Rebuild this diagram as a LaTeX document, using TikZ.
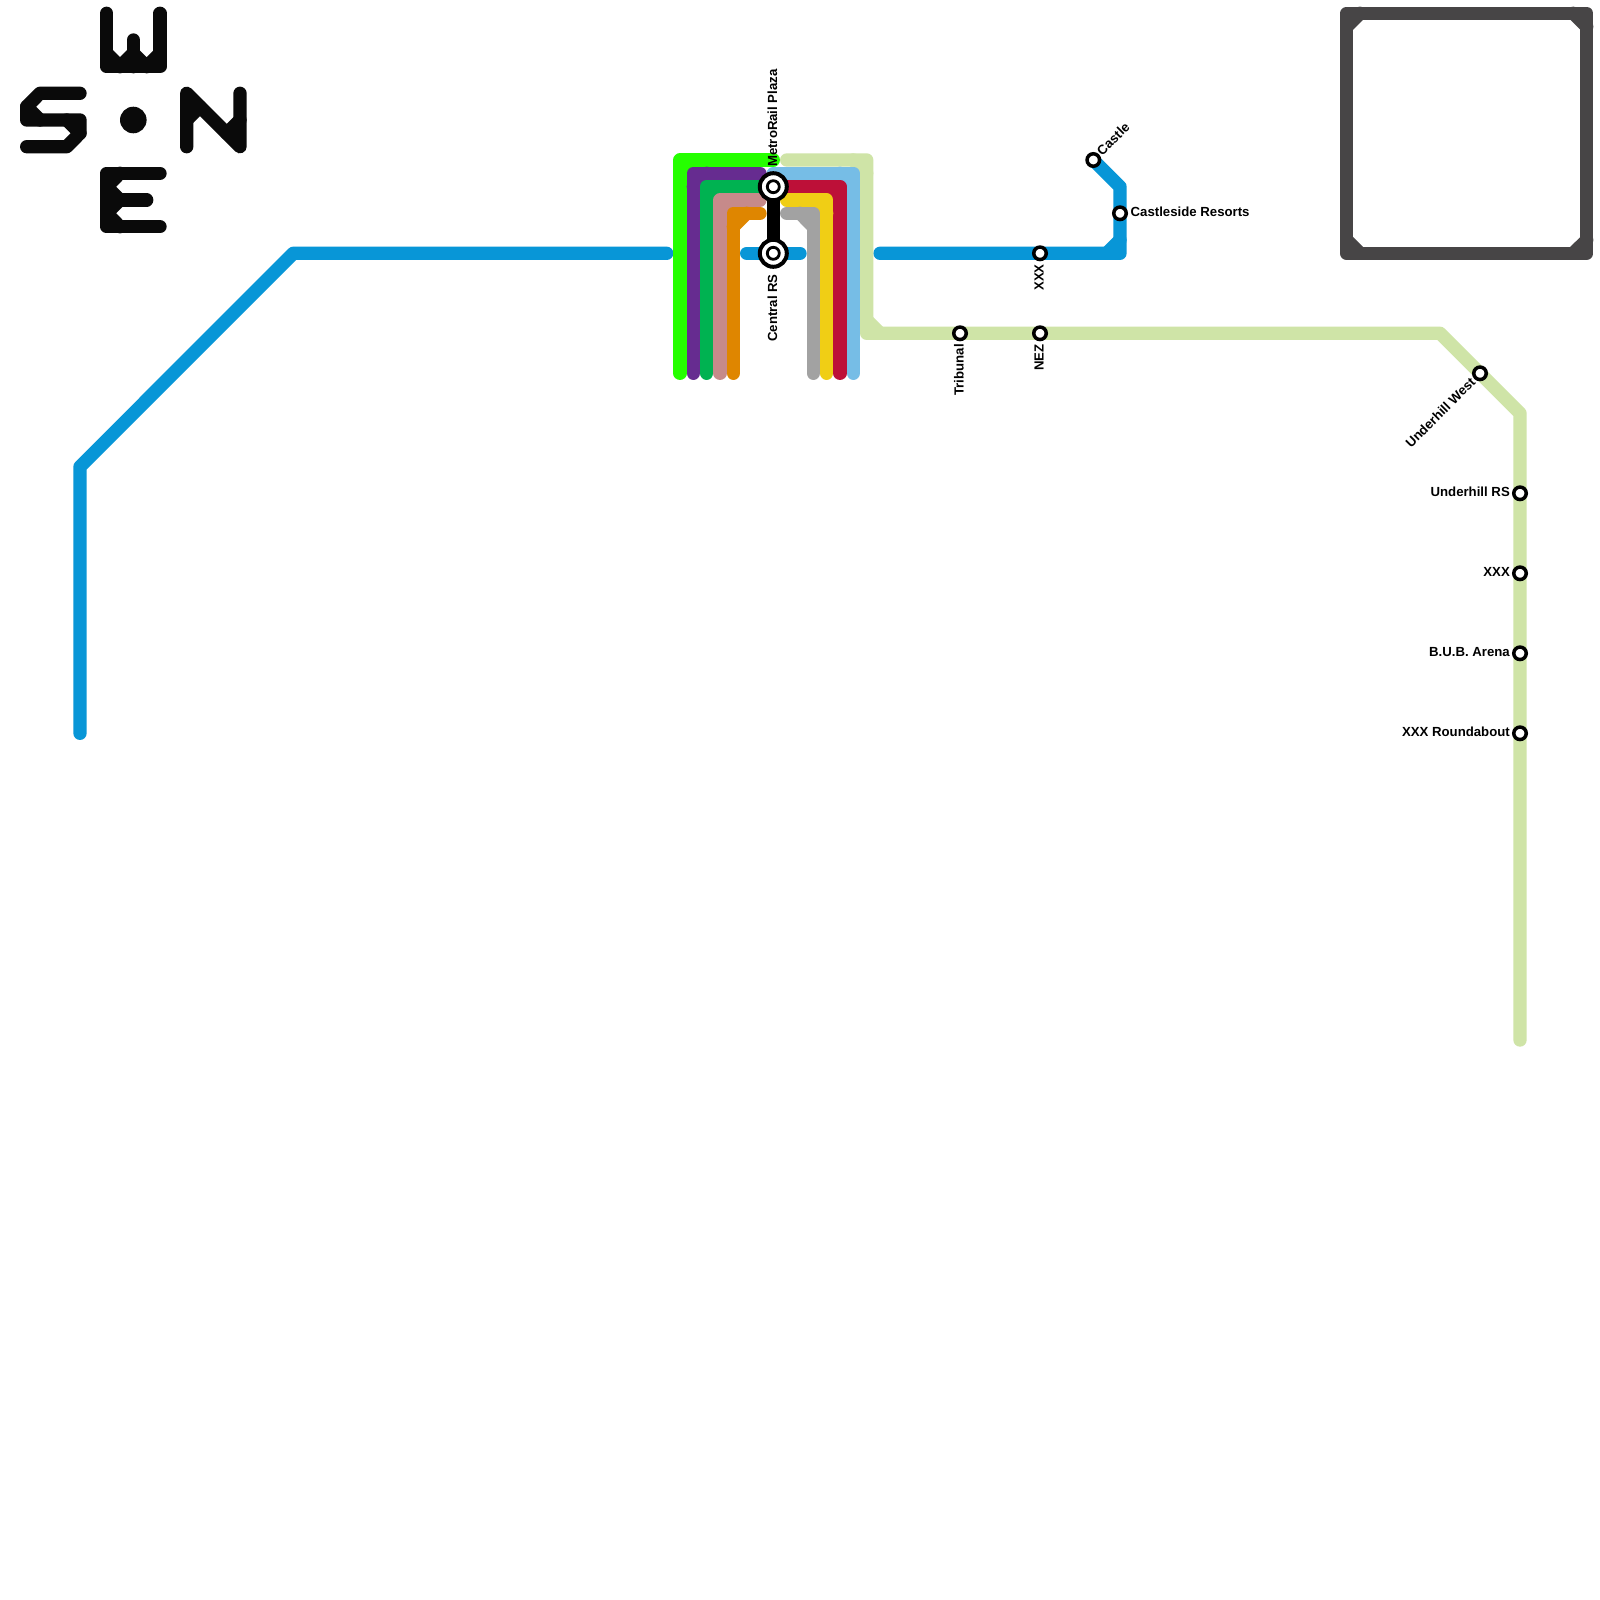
\documentclass[tikz,border=0pt]{standalone}
\usepackage{fontspec}
\setmainfont{Liberation Sans}
\definecolor{cblue}{HTML}{0896D7}
\definecolor{clime}{HTML}{25FF00}
\definecolor{cpurple}{HTML}{662C90}
\definecolor{cdkgreen}{HTML}{00B251}
\definecolor{cpink}{HTML}{C68A8A}
\definecolor{corange}{HTML}{DF8600}
\definecolor{cgray}{HTML}{A2A2A2}
\definecolor{cyellow}{HTML}{F0CE15}
\definecolor{ccrimson}{HTML}{BD1038}
\definecolor{cltblue}{HTML}{76BDE6}
\definecolor{cltgreen}{HTML}{CFE4A7}
\definecolor{cbox}{HTML}{474546}
\definecolor{cink}{HTML}{0A0A0A}
\tikzset{
  route/.style={line width=13.33pt,line cap=round,line join=round},
  stn/.style={circle,draw=black,fill=white,line width=3.5pt,minimum size=12.5pt,inner sep=0pt},
  hubouter/.style={circle,draw=black,fill=white,line width=4pt,minimum size=27pt,inner sep=0pt},
  hubinner/.style={circle,draw=black,fill=white,line width=2.8pt,minimum size=12pt,inner sep=0pt},
  lbl/.style={inner sep=0pt,font=\fontsize{13.2}{15}\selectfont\bfseries,text=black}
}
\begin{document}
\begin{tikzpicture}[x=1pt,y=-1pt]
\useasboundingbox[fill=white] (0,0) rectangle (1600,1600);
% coordinates of stations
\coordinate (hubA) at (773.3,186.7);
\coordinate (hubB) at (773.3,253.3);
\coordinate (castle) at (1093.3,160);
\coordinate (resorts) at (1120,213.3);
\coordinate (xxxA) at (1040,253.3);
\coordinate (nez) at (1040,333.3);
\coordinate (tribunal) at (960,333.3);
\coordinate (uhwest) at (1480,373.3);
\coordinate (uhrs) at (1520,493.3);
\coordinate (xxxB) at (1520,573.3);
\coordinate (bub) at (1520,653.3);
\coordinate (round) at (1520,733.3);
% compass
\begin{scope}[route]
\draw[cink] (106.7,13.3)--(106.7,66.7)--(160,66.7)--(160,13.3);
\draw[cink] (133.3,40)--(133.3,66.7);
\draw[cink] (106.7,53.3)--(120,66.7)--(133.3,53.3)--(146.7,66.7)--(160,53.3);
\draw[cink] (80,93.3)--(40,93.3)--(26.7,106.7)--(26.7,120)--(66.7,120)--(80,120)--(80,133.3)--(66.7,146.7)--(26.7,146.7);
\draw[cink] (26.7,106.7)--(40,120);
\draw[cink] (66.7,120)--(80,133.3);
\draw[cink] (186.7,146.7)--(186.7,93.3)--(240,146.7)--(240,93.3);
\draw[cink] (186.7,120)--(200,106.7);
\draw[cink] (240,120)--(226.7,133.3);
\draw[cink] (160,173.3)--(106.7,173.3)--(106.7,226.7)--(160,226.7);
\draw[cink] (146.7,200)--(106.7,200);
\draw[cink] (120,173.3)--(106.7,186.7)--(120,200)--(106.7,213.3)--(120,226.7);
\end{scope}
\fill[cink] (133.3,120) circle (13.3);
% frame
\draw[route,cbox] (1346.7,13.3) rectangle (1586.7,253.3);
\draw[route,cbox] (1346.7,26.7)--(1360,13.3) (1573.3,13.3)--(1586.7,26.7) (1586.7,240)--(1573.3,253.3) (1360,253.3)--(1346.7,240);
% routes
\draw[route,cblue] (80,733.3)--(80,466.7)--(293.3,253.3)--(666.7,253.3);
\draw[route,cblue] (746.7,253.3)--(800,253.3);
\draw[route,cblue] (880,253.3)--(xxxA)--(1120,253.3)--(resorts)--(1120,186.7)--(castle);
\draw[route,cblue] (1106.7,253.3)--(1120,240);
\draw[route,cltgreen] (786.7,160)--(866.7,160)--(866.7,333.3)--(tribunal)--(nez)--(1440,333.3)--(uhwest)--(1520,413.3)--(uhrs)--(xxxB)--(bub)--(round)--(1520,1040);
\draw[route,cltgreen] (866.7,320)--(880,333.3) (866.7,173.3)--(853.3,160);
\draw[route,clime] (680,373.3)--(680,160)--(773.3,160);
\draw[route,clime] (680,173.3)--(693.3,160);
\draw[route,cpurple] (693.3,373.3)--(693.3,173.3)--(760,173.3);
\draw[route,cpurple] (693.3,186.7)--(706.7,173.3);
\draw[route,cdkgreen] (706.7,373.3)--(706.7,186.7)--(760,186.7);
\draw[route,cdkgreen] (706.7,200)--(720,186.7);
\draw[route,cpink] (720,373.3)--(720,200)--(760,200);
\draw[route,cpink] (720,213.3)--(733.3,200);
\draw[route,corange] (733.3,373.3)--(733.3,213.3)--(760,213.3);
\draw[route,corange] (733.3,226.7)--(746.7,213.3);
\draw[route,cltblue] (773.3,173.3)--(853.3,173.3)--(853.3,373.3);
\draw[route,cltblue] (853.3,186.7)--(840,173.3);
\draw[route,ccrimson] (786.7,186.7)--(840,186.7)--(840,373.3);
\draw[route,ccrimson] (840,200)--(826.7,186.7);
\draw[route,cyellow] (786.7,200)--(826.7,200)--(826.7,373.3);
\draw[route,cyellow] (826.7,213.3)--(813.3,200);
\draw[route,cgray] (786.7,213.3)--(813.3,213.3)--(813.3,373.3);
\draw[route,cgray] (813.3,226.7)--(800,213.3);
% interchange
\draw[route,black] (hubA)--(hubB);
\node[hubouter] (hubAo) at (hubA) {};
\node[hubinner] (hubAi) at (hubA) {};
\node[hubouter] (hubBo) at (hubB) {};
\node[hubinner] (hubBi) at (hubB) {};
% stations
\foreach \s/\n in {castle/sa,resorts/sb,xxxA/sc,nez/sd,tribunal/se,uhwest/sf,uhrs/sg,xxxB/sh,bub/si,round/sj}{
  \node[stn] (\n) at (\s) {};
}
% labels
\node[lbl,rotate=90,anchor=west] (tMetro) at (772.3,167) {MetroRail Plaza};
\node[lbl,rotate=90,anchor=east] (tCentral) at (772.3,274) {Central RS};
\node[lbl,rotate=45,anchor=west] (tCastle) at (1099,153) {Castle};
\node[lbl,anchor=west] (tResorts) at (1130.5,211.5) {Castleside Resorts};
\node[lbl,rotate=90,anchor=east] (tXxxA) at (1039,264) {XXX};
\node[lbl,rotate=90,anchor=east] (tNez) at (1039,344) {NEZ};
\node[lbl,rotate=90,anchor=east] (tTrib) at (959,344) {Tribunal};
\node[lbl,rotate=45,anchor=east] (tWest) at (1473,380) {Underhill West};
\node[lbl,anchor=east] (tUhrs) at (1510,492) {Underhill RS};
\node[lbl,anchor=east] (tXxxB) at (1510,571.5) {XXX};
\node[lbl,anchor=east] (tBub) at (1510,652) {B.U.B. Arena};
\node[lbl,anchor=east] (tRound) at (1510,731.5) {XXX Roundabout};
\end{tikzpicture}
\end{document}
